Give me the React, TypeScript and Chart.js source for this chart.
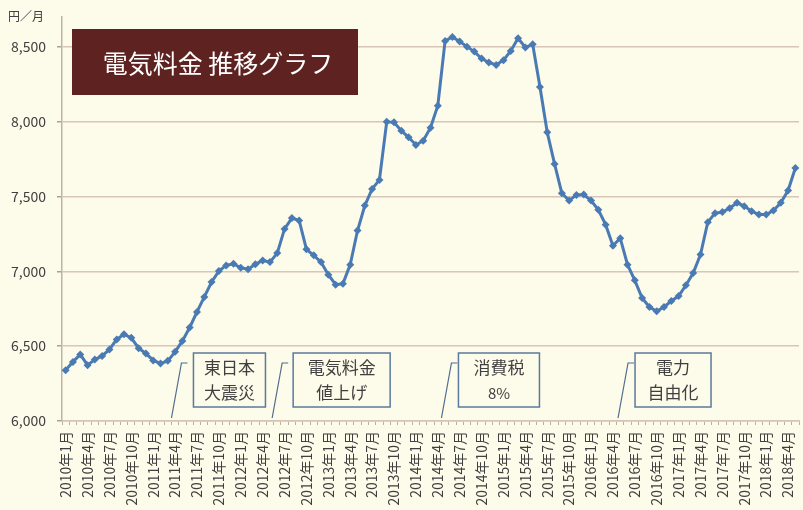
import React, { useEffect, useRef } from "react";
import { Chart, registerables } from "chart.js";

Chart.register(...registerables);

const years = [2010, 2011, 2012, 2013, 2014, 2015, 2016, 2017, 2018];
const monthsInLastYear = 5;

const categories: string[] = [];
years.forEach((y) => {
  const n = y === 2018 ? monthsInLastYear : 12;
  for (let m = 1; m <= n; m++) categories.push(`${y}年${m}月`);
});

const prices = [
  6340, 6395, 6445, 6373, 6411, 6435, 6478, 6545, 6580, 6556, 6487, 6451,
  6405, 6385, 6402, 6462, 6535, 6625, 6729, 6829, 6929, 7002, 7040, 7051,
  7024, 7014, 7047, 7073, 7062, 7122, 7284, 7356, 7340, 7147, 7107, 7062,
  6978, 6911, 6918, 7045, 7273, 7440, 7551, 7611, 8000, 7996, 7940, 7896,
  7845, 7873, 7960, 8107, 8540, 8567, 8536, 8502, 8469, 8422, 8396, 8380,
  8411, 8473, 8558, 8496, 8518, 8233, 7929, 7718, 7522, 7473, 7511, 7513,
  7473, 7411, 7312, 7171, 7222, 7045, 6940, 6822, 6762, 6733, 6762, 6802,
  6835, 6907, 6989, 7113, 7329, 7389, 7396, 7422, 7458, 7436, 7402, 7380,
  7380, 7407, 7458, 7540, 7691,
];

const yMin = 6000;
const yMax = 8700;
const yTicks = [6000, 6500, 7000, 7500, 8000, 8500];

const titleText = "電気料金 推移グラフ";
const unitText = "円／月";

const noteLines = [
  ["東日本", "大震災"],
  ["電気料金", "値上げ"],
  ["消費税", "8%"],
  ["電力", "自由化"],
];
const noteIndex = [14.5, 28.3, 51.5, 75.7];

const FONT = '"Noto Sans CJK JP", "Noto Sans", sans-serif';
const BG = "#FDFBE9";
const TEXT = "#404040";
const LINE = "#4A7AB4";

export default function App() {
  const ref = useRef<HTMLCanvasElement | null>(null);

  useEffect(() => {
    if (!ref.current) return;

    const decor = {
      id: "decor",
      beforeDraw(chart: any) {
        const ctx = chart.ctx;
        ctx.save();
        ctx.fillStyle = BG;
        ctx.fillRect(0, 0, chart.width, chart.height);
        ctx.restore();
      },
      afterDraw(chart: any) {
        const ctx = chart.ctx;
        const xs = chart.scales.x;
        const area = chart.chartArea;
        ctx.save();
        // unit label
        ctx.fillStyle = TEXT;
        ctx.font = `12px ${FONT}`;
        ctx.textAlign = "left";
        ctx.textBaseline = "middle";
        ctx.fillText(unitText, 8, 16);

        // title box
        const tx = area.left + 10;
        const ty = area.top + 12;
        const tw = 286;
        const th = 66;
        ctx.fillStyle = "#5E2321";
        ctx.fillRect(tx, ty, tw, th);
        ctx.fillStyle = "#FFFFFF";
        ctx.font = `25px ${FONT}`;
        ctx.textAlign = "center";
        ctx.textBaseline = "middle";
        ctx.fillText(titleText, tx + tw / 2 + 3, ty + th / 2 + 1);

        // annotations
        const boxDx = [22, 21, 17, 17];
        const boxW = [72, 97, 81, 76];
        noteLines.forEach((lines, i) => {
          const bx = xs.getPixelForValue(noteIndex[i]);
          const by = area.bottom - 3;
          ctx.strokeStyle = "#4F6D8F";
          ctx.lineWidth = 1.2;
          ctx.beginPath();
          ctx.moveTo(bx, by);
          ctx.lineTo(bx + 10, area.bottom - 58);
          ctx.lineTo(bx + 16, area.bottom - 58);
          ctx.stroke();

          const left = bx + boxDx[i];
          const top = area.bottom - 68;
          const w = boxW[i];
          const h = 54;
          ctx.fillStyle = BG;
          ctx.fillRect(left, top, w, h);
          ctx.strokeStyle = "#5B7A9D";
          ctx.lineWidth = 1.5;
          ctx.strokeRect(left, top, w, h);
          ctx.fillStyle = TEXT;
          ctx.textAlign = "center";
          ctx.textBaseline = "middle";
          lines.forEach((t, j) => {
            ctx.font = t === "8%" ? `15px ${FONT}` : `17px ${FONT}`;
            ctx.fillText(t, left + w / 2, top + 15 + j * 25);
          });
        });
        ctx.restore();
      },
    };

    const chart = new Chart(ref.current, {
      type: "line",
      data: {
        labels: categories,
        datasets: [
          {
            data: prices,
            borderColor: LINE,
            backgroundColor: LINE,
            borderWidth: 3,
            pointStyle: "rectRot",
            pointRadius: 4,
            pointBorderWidth: 0,
            pointBackgroundColor: LINE,
            tension: 0,
          },
        ],
      },
      options: {
        animation: false,
        responsive: false,
        devicePixelRatio: 1,
        layout: { padding: { left: 0, top: 17, right: 2, bottom: 0 } },
        plugins: {
          legend: { display: false },
          tooltip: { enabled: false },
          title: { display: false },
        },
        scales: {
          x: {
            offset: true,
            grid: {
              offset: true,
              drawOnChartArea: false,
              drawTicks: true,
              tickLength: 4,
              tickColor: "#B8B0A4",
            },
            border: { display: true, color: "#D6C3B3", width: 1.5 },
            ticks: {
              autoSkip: false,
              minRotation: 90,
              maxRotation: 90,
              padding: 6,
              color: TEXT,
              font: { family: FONT, size: 14 },
              callback: (_v: any, i: number) =>
                i % 3 === 0 ? categories[i] : "",
            },
            afterFit: (s: any) => {
              s.height = 89;
              s.paddingLeft = 0;
              s.paddingRight = 0;
            },
          },
          y: {
            min: yMin,
            max: yMax,
            afterBuildTicks: (s: any) => {
              s.ticks = yTicks.map((v) => ({ value: v }));
            },
            grid: {
              color: "#D9C6B6",
              lineWidth: 1.5,
              drawTicks: true,
              tickLength: 5,
              tickColor: "#A8A095",
            },
            border: { display: true, color: "#BDB3A6", width: 1.5 },
            ticks: {
              padding: 11,
              color: TEXT,
              font: { family: FONT, size: 14 },
              callback: (v: any) => Number(v).toLocaleString("en-US"),
            },
            afterFit: (s: any) => {
              s.width = 62;
              s.paddingTop = 0;
              s.paddingBottom = 0;
            },
          },
        },
      },
      plugins: [decor],
    });

    return () => chart.destroy();
  }, []);

  return (
    <div style={{ position: "absolute", left: 0, top: 0, width: 803, height: 510 }}>
      <canvas ref={ref} width={803} height={510} style={{ width: 803, height: 510 }} />
    </div>
  );
}
